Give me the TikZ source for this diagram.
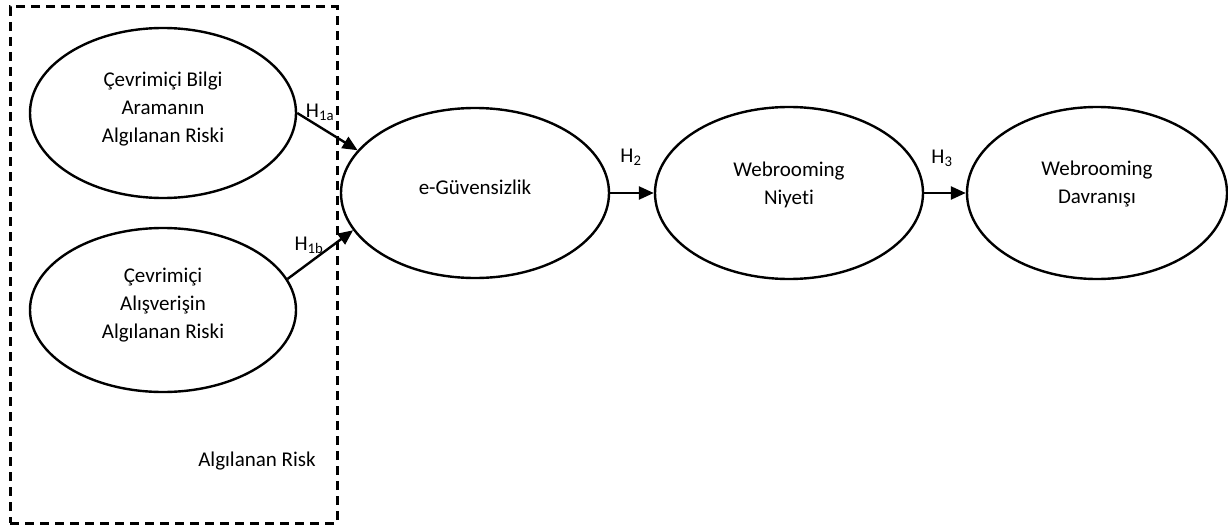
\documentclass[tikz,border=0pt]{standalone}
\usepackage{fontspec}
\setmainfont{Carlito}[Ligatures=NoCommon]
\usetikzlibrary{shapes.geometric,arrows.meta}
\begin{document}
\begin{tikzpicture}[x=1pt,y=-1pt,
  oval/.style={ellipse,draw,line width=2.4pt,inner sep=0pt},
  txt/.style={align=center,font=\fontsize{21}{28}\selectfont,inner sep=0pt},
  hlab/.style={font=\fontsize{21}{22}\selectfont,inner sep=0pt},
  link/.style={line width=2.4pt,-{Triangle[length=15pt,width=13pt]}},
  group/.style={draw,line width=3pt,dash pattern=on 9pt off 6pt}]
\useasboundingbox (0,0) rectangle (1228,527);
\node[group,minimum width=327pt,minimum height=516pt,inner sep=0pt] (box) at (173.5,265) {};
\node[oval,minimum width=266pt,minimum height=170pt] (e1) at (163,113) {};
\node[txt] (t1) at (163,109) {Çevrimiçi Bilgi\\Aramanın\\Algılanan Riski};
\node[oval,minimum width=266pt,minimum height=164pt] (e2) at (163,310) {};
\node[txt] (t2) at (163,305) {Çevrimiçi\\Alışverişin\\Algılanan Riski};
\node[oval,minimum width=268pt,minimum height=170pt] (eg) at (475,193) {};
\node[txt] (tg) at (475,187) {e-Güvensizlik};
\node[oval,minimum width=268pt,minimum height=172pt] (ni) at (789,193) {};
\node[txt] (tn) at (789,185) {Webrooming\\Niyeti};
\node[oval,minimum width=260pt,minimum height=172pt] (da) at (1097,193) {};
\node[txt] (td) at (1097,184) {Webrooming\\Davranışı};
\node[hlab] (lr) at (257,461) {Algılanan Risk};
\draw[link] (e1.east) -- (eg.160);
\draw[link] (e2.14) -- (eg.197);
\draw[link] (eg.east) -- (ni.west);
\draw[link] (ni.east) -- (da.west);
\node[hlab] (h1a) at (320,112) {H\textsubscript{1a}};
\node[hlab] (h1b) at (309,245) {H\textsubscript{1b}};
\node[hlab] (h2) at (631,157) {H\textsubscript{2}};
\node[hlab] (h3) at (942,158) {H\textsubscript{3}};
\end{tikzpicture}
\end{document}
